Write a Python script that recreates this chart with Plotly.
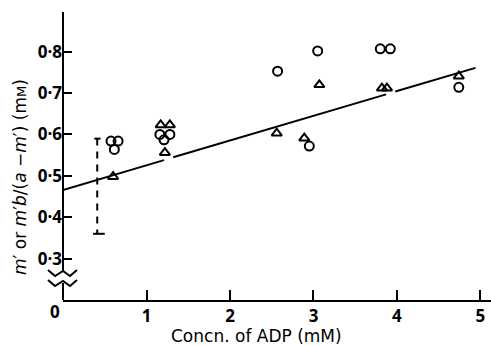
import plotly.graph_objects as go

# ---------------- data ----------------
circle_x = [0.575, 0.66, 0.615, 1.16, 1.28, 1.21, 2.57, 2.95, 3.05, 3.80, 3.92, 4.74]
circle_y = [0.584, 0.584, 0.564, 0.600, 0.600, 0.587, 0.753, 0.572, 0.802, 0.807, 0.807, 0.714]

tri_x = [0.60, 1.17, 1.28, 1.22, 2.56, 2.89, 3.07, 3.82, 3.88, 4.74]
tri_y = [0.498, 0.623, 0.623, 0.556, 0.603, 0.591, 0.720, 0.712, 0.712, 0.741]

fit_x = [0.0, 1.21, None, 1.32, 3.87, None, 3.98, 4.94]
fit_y = [0.466, 0.538, None, 0.545, 0.697, None, 0.704, 0.761]

err_x = 0.41
err_lo = 0.36
err_hi = 0.59

x_ticks = [1, 2, 3, 4, 5]
x_ticktext = ["1", "2", "3", "4", "5"]
y_ticks = [0.3, 0.4, 0.5, 0.6, 0.7, 0.8]
y_ticktext = ["0·3", "0·4", "0·5", "0·6", "0·7", "0·8"]

x_title = "Concn. of ADP (mM)"
y_title = "<i>m</i>′ or <i>m</i>′<i>b</i>/(<i>a</i> −<i>m</i>′) (m<span style='font-size:13px'>M</span>)"

# ---------------- layout geometry ----------------
W, H = 491, 346
ML, MR, MT, MB = 63, 0, 12, 46
PW, PH = W - ML - MR, H - MT - MB
X_RANGE = [0, 5.126]
Y_RANGE = [0.2, 0.896]

def px(xpix):
    return (xpix - ML) / PW

def py(ypix):
    return (H - MB - ypix) / PH

TICKFONT = dict(family="Open Sans", size=17, color="black", weight="bold")
TITLEFONT = dict(family="DejaVu Sans", size=17, color="black")

fig = go.Figure()

# regression line
fig.add_trace(go.Scatter(x=fit_x, y=fit_y, mode="lines",
                         line=dict(color="black", width=2), hoverinfo="skip",
                         showlegend=False))

# dashed error bar
fig.add_trace(go.Scatter(x=[err_x, err_x], y=[err_hi, err_lo], mode="lines",
                         line=dict(color="black", width=2, dash="7px,6px"),
                         showlegend=False))
fig.add_trace(go.Scatter(x=[err_x - 0.035, err_x + 0.04], y=[err_hi, err_hi], mode="lines",
                         line=dict(color="black", width=2), showlegend=False))
fig.add_trace(go.Scatter(x=[err_x - 0.05, err_x + 0.09], y=[err_lo, err_lo], mode="lines",
                         line=dict(color="black", width=2), showlegend=False))

# points
fig.add_trace(go.Scatter(x=circle_x, y=circle_y, mode="markers",
                         marker=dict(symbol="circle-open", size=9, color="black",
                                     line=dict(width=2, color="black")),
                         showlegend=False))
fig.add_trace(go.Scatter(x=tri_x, y=tri_y, mode="markers",
                         marker=dict(symbol="triangle-up-open", size=9, color="black",
                                     line=dict(width=2, color="black")),
                         showlegend=False))

shapes = []
# y-axis line with break
shapes.append(dict(type="line", xref="paper", yref="paper",
                   x0=px(63), x1=px(63), y0=py(12), y1=py(272), line=dict(color="black", width=2)))
shapes.append(dict(type="line", xref="paper", yref="paper",
                   x0=px(63), x1=px(63), y0=py(283), y1=py(300), line=dict(color="black", width=2)))

def zigzag(yc):
    pts = [(48, yc - 3), (55, yc + 3), (63, yc - 2), (70, yc + 3), (77, yc - 3)]
    d = "M " + " L ".join(f"{px(a):.5f},{py(b):.5f}" for a, b in pts)
    return dict(type="path", xref="paper", yref="paper", path=d,
                line=dict(color="black", width=2))

shapes.append(zigzag(273))
shapes.append(zigzag(283))

fig.update_layout(
    width=W, height=H,
    margin=dict(l=ML, r=MR, t=MT, b=MB),
    paper_bgcolor="white", plot_bgcolor="white",
    font=dict(family="DejaVu Sans", color="black", size=15),
    shapes=shapes,
    xaxis=dict(range=X_RANGE, showgrid=False, zeroline=False,
               showline=True, linecolor="black", linewidth=2,
               ticks="inside", ticklen=10, tickwidth=2, tickcolor="black",
               tickvals=x_ticks, ticktext=x_ticktext, tickfont=TICKFONT),
    yaxis=dict(range=Y_RANGE, showgrid=False, zeroline=False, showline=False,
               ticks="inside", ticklen=9, tickwidth=2, tickcolor="black",
               tickvals=y_ticks, ticktext=y_ticktext, tickfont=TICKFONT),
    annotations=[
        dict(text="0", xref="paper", yref="paper", x=px(55), y=py(311),
             showarrow=False, xanchor="center", yanchor="middle", font=TICKFONT),
        dict(text=x_title, xref="paper", yref="paper", x=px(256), y=py(336),
             showarrow=False, xanchor="center", yanchor="middle", font=TITLEFONT),
        dict(text=y_title, xref="paper", yref="paper", x=px(20), y=py(177),
             showarrow=False, textangle=-90, xanchor="center", yanchor="middle",
             font=TITLEFONT),
    ],
)

fig.write_html("out.html")
